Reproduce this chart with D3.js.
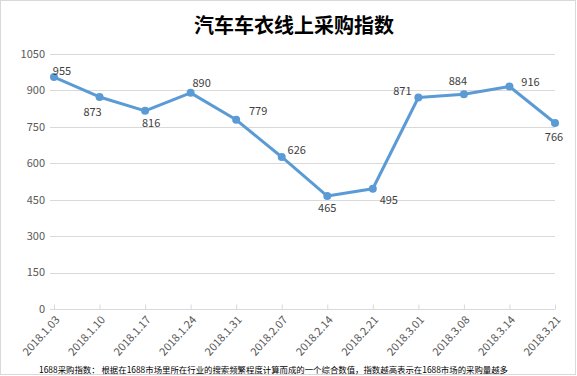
<!DOCTYPE html>
<html>
<head>
<meta charset="utf-8">
<script src="https://cdn.jsdelivr.net/npm/d3@7"></script>
<style>
  body { margin: 0; background: #fff; }
  text { font-family: "Noto Sans CJK SC", "Noto Sans", sans-serif; }
</style>
</head>
<body>
<div class="chart"></div>
<script>
const w = 577;
const h = 376;

// data
const dates = ["2018.1.03", "2018.1.10", "2018.1.17", "2018.1.24", "2018.1.31", "2018.2.07",
  "2018.2.14", "2018.2.21", "2018.3.01", "2018.3.08", "2018.3.14", "2018.3.21"];
const values = [955, 873, 816, 890, 779, 626, 465, 495, 871, 884, 916, 766];
const yTicks = [0, 150, 300, 450, 600, 750, 900, 1050];
const title = "汽车车衣线上采购指数";
const note = "1688采购指数：  根据在1688市场里所在行业的搜索频繁程度计算而成的一个综合数值，指数越高表示在1688市场的采购量越多";

// where each data label sits relative to its point
const labelOffsets = [[8, -6], [-7, 15], [6, 12], [11, -10], [22, -9], [15, -7],
  [0, 12], [16, 11], [-16, -6], [-6, -13], [21, -4], [-1, 14]];

const svg = d3.select(".chart")
  .append("svg")
  .attr("width", w)
  .attr("height", h);

svg.append("rect")
  .attr("x", 0.5).attr("y", 0.5)
  .attr("width", w - 2).attr("height", h - 2)
  .attr("fill", "#fff")
  .attr("stroke", "#d9d9d9");

const xScale = d3.scalePoint().domain(dates).range([54, 555]);
const yScale = d3.scaleLinear().domain([0, 1050]).range([309, 54]);

// gridlines
svg.append("g")
  .selectAll("line")
  .data(yTicks.slice(1))
  .enter()
  .append("line")
  .attr("x1", 50).attr("x2", 555)
  .attr("y1", d => Math.round(yScale(d)) + 0.5)
  .attr("y2", d => Math.round(yScale(d)) + 0.5)
  .attr("stroke", "#d9d9d9");

// y labels
svg.append("g")
  .selectAll("text")
  .data(yTicks)
  .enter()
  .append("text")
  .attr("x", 45)
  .attr("y", d => yScale(d))
  .attr("dy", "0.35em")
  .attr("text-anchor", "end")
  .attr("font-size", 11)
  .attr("fill", "#595959")
  .text(d => d);

// x axis
const xAxis = d3.axisBottom(xScale).tickSizeInner(-5).tickSizeOuter(0).tickPadding(10);
const gx = svg.append("g")
  .attr("transform", `translate(0, ${Math.round(yScale(0)) + 0.5})`)
  .call(xAxis);
gx.select(".domain").attr("stroke", "#d9d9d9").attr("d", "M50,0H555");
gx.selectAll(".tick line").attr("stroke", "#d9d9d9");
gx.selectAll(".tick text")
  .attr("font-size", 11)
  .attr("fill", "#595959")
  .attr("font-family", "Noto Sans, sans-serif")
  .attr("text-anchor", "end")
  .attr("dy", "0.35em")
  .attr("transform", "translate(3, 8) rotate(-48)")
  .attr("y", 0);

// line
const line = d3.line()
  .x((d, i) => xScale(dates[i]))
  .y(d => yScale(d));

svg.append("path")
  .datum(values)
  .attr("d", line)
  .attr("fill", "none")
  .attr("stroke", "#5b9bd5")
  .attr("stroke-width", 3)
  .attr("stroke-linejoin", "round");

svg.append("g")
  .selectAll("circle")
  .data(values)
  .enter()
  .append("circle")
  .attr("cx", (d, i) => xScale(dates[i]))
  .attr("cy", d => yScale(d))
  .attr("r", 4)
  .attr("fill", "#5b9bd5");

// data labels
svg.append("g")
  .selectAll("text")
  .data(values)
  .enter()
  .append("text")
  .attr("x", (d, i) => xScale(dates[i]) + labelOffsets[i][0])
  .attr("y", (d, i) => yScale(d) + labelOffsets[i][1])
  .attr("dy", "0.35em")
  .attr("text-anchor", "middle")
  .attr("font-size", 11)
  .attr("fill", "#404040")
  .text(d => d);

// title
svg.append("text")
  .attr("x", 294)
  .attr("y", 26)
  .attr("dy", "0.35em")
  .attr("text-anchor", "middle")
  .attr("font-size", 20)
  .attr("font-weight", "bold")
  .attr("fill", "#000")
  .text(title);

// footnote
svg.append("text")
  .attr("x", 39)
  .attr("y", 370)
  .attr("dy", "0.35em")
  .attr("font-size", 8.5)
  .attr("fill", "#000")
  .attr("textLength", 469)
  .attr("lengthAdjust", "spacingAndGlyphs")
  .text(note);
</script>
</body>
</html>
